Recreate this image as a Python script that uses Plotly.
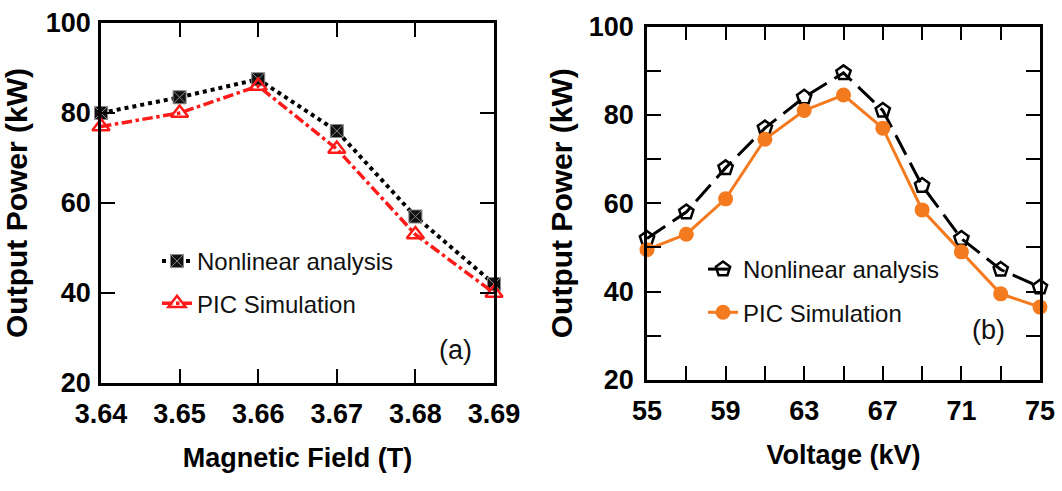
import plotly.graph_objects as go

# ---- data ----
bfield = [3.64, 3.65, 3.66, 3.67, 3.68, 3.69]
nonlinear_b = [80, 83.5, 87.5, 76, 57, 42]
pic_b = [77, 80, 86, 72, 53, 40]

voltage = [55, 57, 59, 61, 63, 65, 67, 69, 71, 73, 75]
nonlinear_v = [52, 58, 68, 77, 84, 89.5, 81, 64, 52, 45, 41]
pic_v = [49.5, 53, 61, 74.5, 81, 84.5, 77, 58.5, 49, 39.5, 36.5]

W, H = 1062, 491
FONT = "Liberation Sans, Arial"

fig = go.Figure()

fig.add_trace(go.Scatter(
    x=bfield, y=nonlinear_b, name="Nonlinear analysis", mode="lines+markers",
    line=dict(color="black", width=4, dash="dot"),
    marker=dict(symbol="square-x", size=13, color="#111111",
                line=dict(color="#888888", width=1)),
    xaxis="x", yaxis="y", legend="legend", legendgroup="a1", cliponaxis=False))
fig.add_trace(go.Scatter(
    x=bfield, y=pic_b, name="PIC Simulation", mode="lines+markers",
    line=dict(color="#FF1A1A", width=3.5, dash="dashdot"),
    marker=dict(symbol="triangle-up-open", size=15, color="#FF1A1A",
                line=dict(color="#FF1A1A", width=2.5)),
    xaxis="x", yaxis="y", legend="legend", legendgroup="a2", cliponaxis=False))

fig.add_trace(go.Scatter(
    x=voltage, y=nonlinear_v, name="Nonlinear analysis", mode="lines+markers",
    line=dict(color="black", width=3, dash="22px,9px"),
    marker=dict(symbol="pentagon-open", size=15, color="black",
                line=dict(color="black", width=2.5)),
    xaxis="x2", yaxis="y2", legend="legend2", legendgroup="b1", cliponaxis=False))
fig.add_trace(go.Scatter(
    x=voltage, y=pic_v, name="PIC Simulation", mode="lines+markers",
    line=dict(color="#F47A20", width=3),
    marker=dict(symbol="circle", size=15, color="#F47A20"),
    xaxis="x2", yaxis="y2", legend="legend2", legendgroup="b2", cliponaxis=False))

axis_common = dict(showline=True, linecolor="black", linewidth=2.5, mirror="ticks",
                   ticks="inside", ticklen=14, tickwidth=2, tickcolor="black",
                   showgrid=False, zeroline=False, automargin=False,
                   tickfont=dict(family=FONT, size=27, color="black", weight="bold"))

title_font_x = dict(family=FONT, size=27, color="black", weight="bold")
title_font_y = dict(family=FONT, size=30, color="black", weight="bold")

fig.update_layout(
    width=W, height=H, margin=dict(l=0, r=0, t=0, b=0),
    paper_bgcolor="white", plot_bgcolor="white",
    xaxis=dict(domain=[101 / W, 494 / W], range=[3.64, 3.69], dtick=0.01, tick0=3.64,
               tickformat=".2f", anchor="y", ticklabelstandoff=5,
               title=dict(text="Magnetic Field (T)", standoff=20, font=title_font_x),
               **axis_common),
    yaxis=dict(domain=[1 - 383 / H, 1 - 23 / H], range=[20, 100], dtick=20, anchor="x",
               ticklabelstandoff=2,
               title=dict(text="Output Power (kW)", standoff=10, font=title_font_y),
               **axis_common),
    xaxis2=dict(domain=[647 / W, 1040 / W], range=[55, 75], dtick=4, tick0=55, anchor="y2",
                ticklabelstandoff=5,
                minor=dict(dtick=2, tick0=55, ticks="inside", ticklen=14, tickwidth=2,
                           tickcolor="black", showgrid=False),
                title=dict(text="Voltage (kV)", standoff=20, font=title_font_x),
                **axis_common),
    yaxis2=dict(domain=[1 - 380 / H, 1 - 26.5 / H], range=[20, 100], dtick=20, anchor="x2",
                ticklabelstandoff=5,
                minor=dict(dtick=10, tick0=20, ticks="inside", ticklen=14, tickwidth=2,
                           tickcolor="black", showgrid=False),
                title=dict(text="Output Power (kW)", standoff=8, font=title_font_y),
                **axis_common),
    legend=dict(x=157 / W, y=1 - 239 / H, xanchor="left", yanchor="top",
                bgcolor="rgba(0,0,0,0)", tracegroupgap=8, traceorder="grouped",
                font=dict(family=FONT, size=24, color="#111111")),
    legend2=dict(x=703 / W, y=1 - 247 / H, xanchor="left", yanchor="top",
                 bgcolor="rgba(0,0,0,0)", tracegroupgap=9, traceorder="grouped",
                 font=dict(family=FONT, size=24, color="#111111")),
    annotations=[
        dict(text="(a)", x=455 / W, y=1 - 350 / H, xref="paper", yref="paper",
             xanchor="center", yanchor="middle",
             showarrow=False, font=dict(family=FONT, size=27, color="#111111")),
        dict(text="(b)", x=988 / W, y=1 - 330 / H, xref="paper", yref="paper",
             xanchor="center", yanchor="middle",
             showarrow=False, font=dict(family=FONT, size=27, color="#111111")),
    ],
)

fig.write_html("out.html")
